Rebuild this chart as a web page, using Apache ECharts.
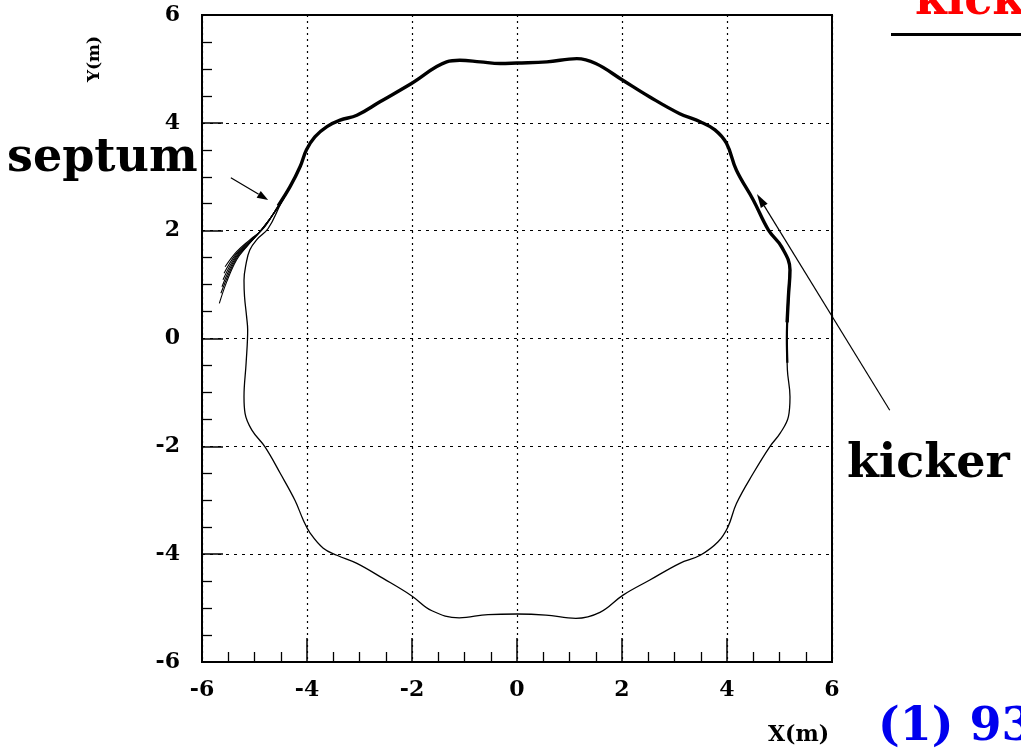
<!DOCTYPE html>
<html>
<head>
<meta charset="utf-8">
<script src="https://cdn.jsdelivr.net/npm/echarts@6/dist/echarts.min.js"></script>
<style>html,body{margin:0;padding:0;background:#fff}#c{width:1021px;height:749px}</style>
</head>
<body>
<div id="c"></div>
<script>
// ---- data (metres) ----
var xTicks = [-6, -4, -2, 0, 2, 4, 6];
var yTicks = [-6, -4, -2, 0, 2, 4, 6];

// closed orbit, traced clockwise from the top
var orbitX = [0, 0.57, 1.14, 1.50, 2.00, 2.53, 3.10, 3.49, 3.77, 3.99, 4.18, 4.50, 4.79, 5.04, 5.20, 5.17, 5.14, 5.15, 5.20, 5.17, 5.01, 4.82, 4.50, 4.18, 4.02, 3.83, 3.49, 3.10, 2.53, 2.02, 1.58, 1.12, 0.55, 0, -0.55, -1.10, -1.62, -2.01, -2.55, -3.05, -3.43, -3.69, -3.94, -4.07, -4.23, -4.51, -4.80, -5.05, -5.18, -5.20, -5.16, -5.13, -5.15, -5.19, -5.20, -5.16, -5.09, -4.96, -4.74, -4.50, -4.32, -4.13, -4.01, -3.85, -3.62, -3.37, -3.05, -2.61, -2.01, -1.34, -1.09, -0.70, -0.32, 0];
var orbitY = [5.11, 5.13, 5.19, 5.10, 4.80, 4.48, 4.17, 4.02, 3.87, 3.62, 3.12, 2.57, 2.01, 1.70, 1.27, 0.78, 0.00, -0.58, -1.08, -1.45, -1.76, -2.00, -2.50, -3.06, -3.49, -3.77, -4.02, -4.17, -4.48, -4.76, -5.08, -5.19, -5.13, -5.11, -5.12, -5.18, -5.05, -4.77, -4.45, -4.17, -4.02, -3.89, -3.61, -3.37, -3.00, -2.50, -2.01, -1.70, -1.39, -1.08, -0.46, 0.16, 0.40, 0.78, 1.08, 1.39, 1.64, 1.83, 2.04, 2.50, 2.82, 3.19, 3.50, 3.74, 3.93, 4.05, 4.14, 4.39, 4.73, 5.13, 5.16, 5.13, 5.10, 5.11];

// upper (multi-turn, thick) part of the orbit
var turnsX = [-4.55, -4.32, -4.13, -4.01, -3.85, -3.62, -3.37, -3.05, -2.61, -2.01, -1.34, -1.09, -0.70, -0.32, 0, 0.57, 1.14, 1.50, 2.00, 2.53, 3.10, 3.49, 3.77, 3.99, 4.18, 4.50, 4.79, 5.04, 5.20, 5.17, 5.145];
var turnsY = [2.46, 2.82, 3.19, 3.50, 3.74, 3.93, 4.05, 4.14, 4.39, 4.73, 5.13, 5.16, 5.13, 5.10, 5.11, 5.13, 5.19, 5.10, 4.80, 4.48, 4.17, 4.02, 3.87, 3.62, 3.12, 2.57, 2.01, 1.70, 1.27, 0.78, 0.30];
// fading tail of the thick part on the right side
var tailX = [5.20, 5.17, 5.14, 5.15];
var tailY = [1.27, 0.78, 0.00, -0.45];

// extracted beam lines towards the septum
var fan1X = [-4.32, -4.55, -4.83, -5.09, -5.34, -5.56];
var fan1Y = [2.82, 2.46, 2.04, 1.83, 1.61, 1.33];
var fan2X = [-4.32, -4.55, -4.85, -5.10, -5.35, -5.58];
var fan2Y = [2.82, 2.45, 2.03, 1.80, 1.57, 1.21];
var fan3X = [-4.32, -4.55, -4.86, -5.11, -5.35, -5.60];
var fan3Y = [2.82, 2.45, 2.02, 1.78, 1.54, 1.09];
var fan4X = [-4.32, -4.55, -4.87, -5.12, -5.35, -5.62];
var fan4Y = [2.82, 2.44, 2.01, 1.75, 1.51, 0.96];
var fan5X = [-4.32, -4.55, -4.88, -5.13, -5.35, -5.64];
var fan5Y = [2.82, 2.44, 2.00, 1.73, 1.48, 0.84];
var fan6X = [-4.32, -4.55, -4.90, -5.15, -5.34, -5.53, -5.67];
var fan6Y = [2.82, 2.43, 1.98, 1.70, 1.46, 1.05, 0.65];

// annotation arrows [fromX, fromY, toX, toY]
var septumArrow = [-5.45, 2.98, -4.74, 2.57];
var kickerArrow = [7.10, -1.33, 4.57, 2.68];

function pairs(xs, ys) { return xs.map(function (x, i) { return [x, ys[i]]; }); }

var chart = echarts.init(document.getElementById('c'), null, { renderer: 'canvas' });
var serif = '"DejaVu Serif", serif';

function lineSeries(xs, ys, w) {
  return {
    type: 'line', data: pairs(xs, ys), showSymbol: false, smooth: 0.4,
    lineStyle: { color: '#000', width: w }, silent: true, animation: false, z: 3
  };
}

var axisCommon = {
  type: 'value', min: -6, max: 6, interval: 2,
  axisLine: { show: true, onZero: false, lineStyle: { color: '#000', width: 2 } },
  axisLabel: { color: '#000', fontFamily: serif, fontWeight: 'bold', fontSize: 22 },
  minorTick: { show: true, splitNumber: 4, length: 10, lineStyle: { color: '#000', width: 1.3 } },
  minorSplitLine: { show: false }
};

var option = {
  animation: false,
  backgroundColor: '#fff',
  grid: { left: 202, right: 189, top: 15, bottom: 87, show: true, borderColor: '#000', borderWidth: 2, backgroundColor: 'transparent' },
  xAxis: Object.assign({}, axisCommon, {
    axisTick: { show: true, inside: true, length: 24, lineStyle: { color: '#000', width: 1.5 } },
    axisLabel: Object.assign({}, axisCommon.axisLabel, { margin: 17, formatter: function (v) { return xTicks.indexOf(v) >= 0 ? String(v) : ''; } }),
    splitLine: { show: true, lineStyle: { color: '#000', width: 1.2, type: [2, 4] } }
  }),
  yAxis: Object.assign({}, axisCommon, {
    axisTick: { show: true, inside: true, length: 21, lineStyle: { color: '#000', width: 1.5 } },
    axisLabel: Object.assign({}, axisCommon.axisLabel, { margin: 22, formatter: function (v) { return yTicks.indexOf(v) >= 0 ? String(v) : ''; } }),
    splitLine: { show: true, lineStyle: { color: '#000', width: 1.2, type: [3, 5] } }
  }),
  series: [
    lineSeries(orbitX, orbitY, 1.3),
    lineSeries(turnsX, turnsY, 3.4),
    lineSeries(tailX, tailY, 2.2),
    lineSeries(fan1X, fan1Y, 1.1),
    lineSeries(fan2X, fan2Y, 1.1),
    lineSeries(fan3X, fan3Y, 1.1),
    lineSeries(fan4X, fan4Y, 1.1),
    lineSeries(fan5X, fan5Y, 1.1),
    lineSeries(fan6X, fan6Y, 1.1)
  ]
};
chart.setOption(option);

function arrowGraphics(a, headLen, headW, lw) {
  var p0 = chart.convertToPixel({ gridIndex: 0 }, [a[0], a[1]]);
  var p1 = chart.convertToPixel({ gridIndex: 0 }, [a[2], a[3]]);
  var dx = p1[0] - p0[0], dy = p1[1] - p0[1];
  var L = Math.sqrt(dx * dx + dy * dy); var ux = dx / L, uy = dy / L;
  var bx = p1[0] - ux * headLen, by = p1[1] - uy * headLen;
  return [
    { type: 'line', shape: { x1: p0[0], y1: p0[1], x2: bx, y2: by }, style: { stroke: '#000', lineWidth: lw }, z: 10 },
    { type: 'polygon', shape: { points: [[p1[0], p1[1]], [bx - uy * headW / 2, by + ux * headW / 2], [bx + uy * headW / 2, by - ux * headW / 2]] }, style: { fill: '#000' }, z: 10 }
  ];
}

// text placed by its top edge
function txt(s, x, top, font, color) {
  return { type: 'text', x: x, y: top, style: { text: s, fill: color, font: font, align: 'left', verticalAlign: 'top' }, z: 10 };
}

var g = [];
g = g.concat(arrowGraphics(septumArrow, 11, 8, 1.2));
g = g.concat(arrowGraphics(kickerArrow, 14, 8, 1.2));
g.push(txt('septum', 7, 136, 'bold 46px ' + serif, '#000'));
g.push(txt('kicker', 847, 442, 'bold 46px ' + serif, '#000'));
g.push(txt('kicker', 915, -21, 'bold 46px ' + serif, '#ff0000'));
g.push({ type: 'line', shape: { x1: 891, y1: 34.5, x2: 1021, y2: 34.5 }, style: { stroke: '#000', lineWidth: 3 }, z: 10 });
g.push(txt('(1) 930', 878, 705, 'bold 46px ' + serif, '#0000ee'));
g.push(txt('X(m)', 768, 724, 'bold 22px ' + serif, '#000'));
g.push({ type: 'text', x: 103, y: 59, rotation: Math.PI / 2, style: { text: 'Y(m)', fill: '#000', font: 'bold 17px ' + serif, align: 'center', verticalAlign: 'bottom' }, z: 10 });
chart.setOption({ graphic: g });
</script>
</body>
</html>
